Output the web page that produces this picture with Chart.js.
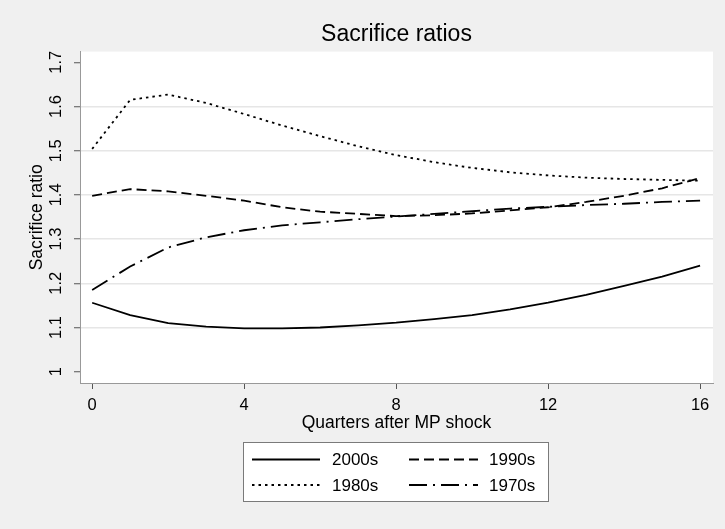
<!DOCTYPE html>
<html>
<head>
<meta charset="utf-8">
<script src="https://cdn.jsdelivr.net/npm/chart.js@4.4.0/dist/chart.umd.min.js"></script>
<style>
  html, body { margin: 0; padding: 0; background: #f0f0f0; }
  canvas { display: block; }
</style>
</head>
<body>
<canvas id="chart" width="725" height="529"></canvas>
<script>
const quarters = [0, 1, 2, 3, 4, 5, 6, 7, 8, 9, 10, 11, 12, 13, 14, 15, 16];
const ratio2000s = [1.156, 1.128, 1.110, 1.102, 1.098, 1.098, 1.100, 1.105, 1.111, 1.119, 1.128, 1.141, 1.156, 1.174, 1.194, 1.215, 1.240];
const ratio1990s = [1.398, 1.413, 1.408, 1.398, 1.387, 1.372, 1.362, 1.357, 1.352, 1.354, 1.358, 1.365, 1.372, 1.384, 1.398, 1.415, 1.438];
const ratio1980s = [1.504, 1.615, 1.627, 1.608, 1.583, 1.557, 1.533, 1.510, 1.490, 1.474, 1.461, 1.451, 1.444, 1.439, 1.436, 1.434, 1.432];
const ratio1970s = [1.185, 1.238, 1.281, 1.304, 1.320, 1.331, 1.338, 1.345, 1.351, 1.357, 1.363, 1.369, 1.373, 1.377, 1.380, 1.384, 1.387];
const seriesLabels = ['2000s', '1990s', '1980s', '1970s'];
const xTicks = [0, 4, 8, 12, 16];
const yTicks = [1, 1.1, 1.2, 1.3, 1.4, 1.5, 1.6, 1.7];

const FONT = '"Liberation Sans", Arial, sans-serif';

function toPoints(values) {
  return quarters.map((q, i) => ({ x: q, y: values[i] }));
}

function lineSet(label, values, dash) {
  return {
    label,
    data: toPoints(values),
    borderColor: '#000',
    borderWidth: 1.8,
    borderDash: dash,
    pointRadius: 0,
    tension: 0,
    fill: false
  };
}

// white plot region like Stata's
const plotBackground = {
  id: 'plotBackground',
  beforeDraw(chart) {
    const { ctx, chartArea: a } = chart;
    ctx.save();
    ctx.fillStyle = '#fff';
    ctx.fillRect(a.left, a.top, a.right - a.left, a.bottom - a.top);
    ctx.restore();
  }
};

// boxed two-column legend under the axis
const boxLegend = {
  id: 'boxLegend',
  afterDraw(chart) {
    const ctx = chart.ctx;
    const box = { x: 243.5, y: 442.5, w: 305, h: 59 };
    const cols = [{ lx: 252, lw: 68, tx: 332 }, { lx: 409, lw: 69, tx: 489 }];
    const rows = [459.5, 485];
    ctx.save();
    ctx.fillStyle = '#fff';
    ctx.fillRect(box.x, box.y, box.w, box.h);
    ctx.strokeStyle = '#7a7a7a';
    ctx.lineWidth = 1;
    ctx.strokeRect(box.x, box.y, box.w, box.h);
    ctx.font = '17px ' + FONT;
    ctx.textBaseline = 'middle';
    ctx.textAlign = 'left';
    chart.data.datasets.forEach((ds, i) => {
      const c = cols[i % 2];
      const y = rows[Math.floor(i / 2)];
      ctx.strokeStyle = ds.borderColor;
      ctx.lineWidth = ds.borderWidth;
      ctx.setLineDash(ds.borderDash || []);
      ctx.beginPath();
      ctx.moveTo(c.lx, y);
      ctx.lineTo(c.lx + c.lw, y);
      ctx.stroke();
      ctx.setLineDash([]);
      ctx.fillStyle = '#000';
      ctx.fillText(ds.label, c.tx, y + 1);
    });
    ctx.restore();
  }
};

new Chart(document.getElementById('chart'), {
  type: 'line',
  data: {
    datasets: [
      lineSet(seriesLabels[0], ratio2000s, []),
      lineSet(seriesLabels[1], ratio1990s, [10, 5]),
      lineSet(seriesLabels[2], ratio1980s, [2.5, 4]),
      lineSet(seriesLabels[3], ratio1970s, [18, 6, 2, 6])
    ]
  },
  options: {
    responsive: false,
    animation: false,
    layout: { padding: { left: 0, right: 12, top: 0, bottom: 86 } },
    plugins: {
      legend: { display: false },
      tooltip: { enabled: false },
      title: {
        display: true,
        text: 'Sacrifice ratios',
        fullSize: false,
        color: '#000',
        font: { family: FONT, size: 23, weight: 'normal' },
        padding: { top: 21, bottom: 3 }
      }
    },
    scales: {
      x: {
        type: 'linear',
        min: -0.32,
        max: 16.34,
        afterBuildTicks: s => { s.ticks = xTicks.map(v => ({ value: v })); },
        afterFit: s => { s.height = 60; },
        ticks: {
          color: '#000',
          padding: 7,
          font: { family: FONT, size: 16.5 },
          callback: v => String(v)
        },
        grid: { drawOnChartArea: false, drawTicks: true, tickLength: 6, tickColor: '#555', tickWidth: 1 },
        border: { display: true, color: '#999', width: 1 },
        title: {
          display: true,
          text: 'Quarters after MP shock',
          color: '#000',
          font: { family: FONT, size: 17.5 },
          padding: { top: 0, bottom: 9 }
        }
      },
      y: {
        type: 'linear',
        min: 0.9744,
        max: 1.7242,
        afterBuildTicks: s => { s.ticks = yTicks.map(v => ({ value: v })); },
        afterFit: s => { s.width = 80; },
        ticks: {
          color: '#000',
          minRotation: 90,
          maxRotation: 90,
          crossAlign: 'center',
          padding: 6,
          font: { family: FONT, size: 16.5 },
          callback: v => String(Number(v.toFixed(1)))
        },
        grid: {
          color: c => (c.tick && (c.tick.value === 1 || c.tick.value === 1.7)) ? 'rgba(0,0,0,0)' : '#e6e6e6',
          lineWidth: 1.5,
          drawTicks: true,
          tickLength: 6,
          tickColor: '#555',
          tickWidth: 1
        },
        border: { display: true, color: '#999', width: 1 },
        title: {
          display: true,
          text: 'Sacrifice ratio',
          color: '#000',
          font: { family: FONT, size: 17.5 },
          padding: { top: 27, bottom: 0 }
        }
      }
    }
  },
  plugins: [plotBackground, boxLegend]
});
</script>
</body>
</html>
